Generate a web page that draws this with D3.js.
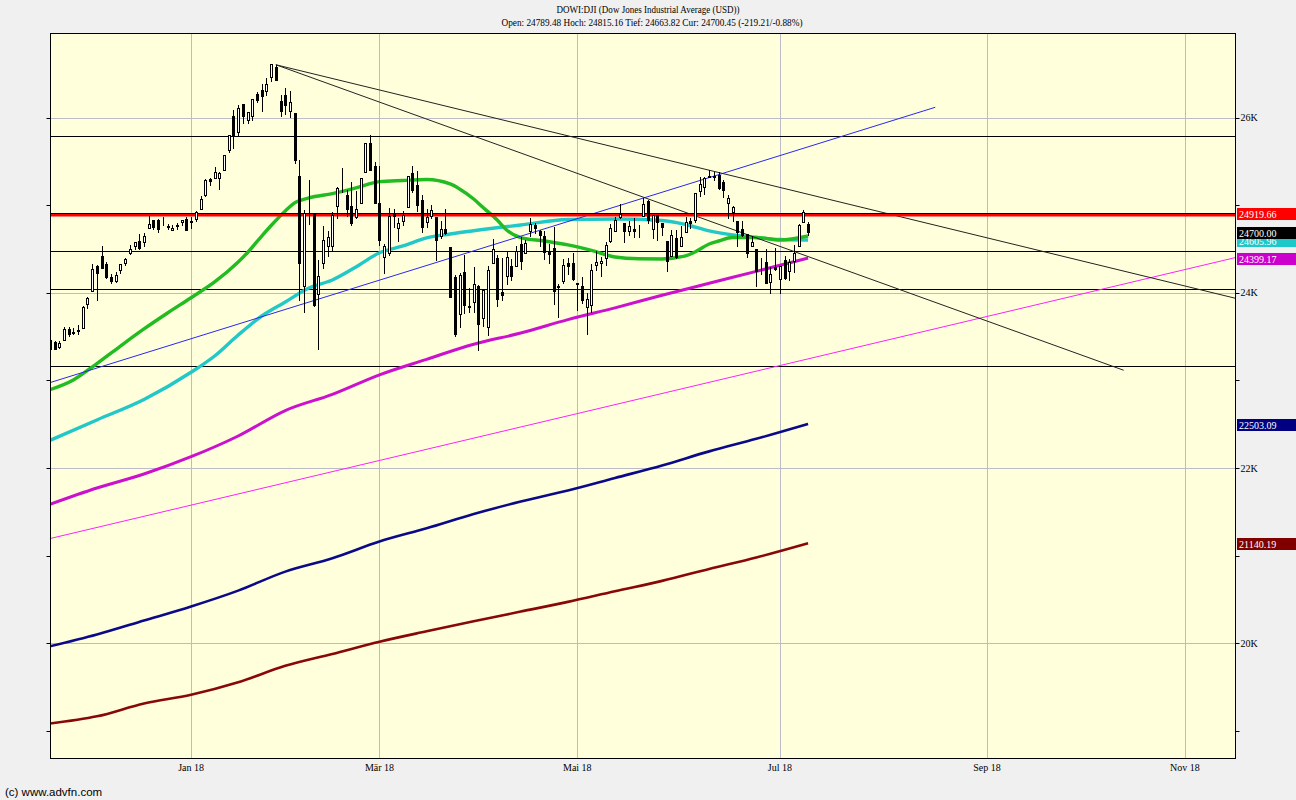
<!DOCTYPE html>
<html><head><meta charset="utf-8">
<script src="https://cdn.jsdelivr.net/npm/d3@7"></script>
<style>
body{margin:0;background:#f0f0f0;}
svg{display:block;}
text{font-family:"Liberation Serif","Times New Roman",serif;}
</style></head><body>
<svg id="chart" width="1296" height="800"></svg>
<script>
// ---------------- DATA ----------------
const titleLine1 = "DOWI:DJI (Dow Jones Industrial Average (USD))";
const titleLine2 = "Open: 24789.48 Hoch: 24815.16 Tief: 24663.82 Cur: 24700.45 (-219.21/-0.88%)";
const copyright = "(c) www.advfn.com";

// trading calendar (first candle = calendarStart)
const calendarStart = "2017-11-16";
const calendarEnd = "2018-11-30";
const holidays = ["2017-11-23","2017-12-25","2018-01-01","2018-01-15","2018-02-19","2018-03-30","2018-05-28","2018-07-04","2018-09-03","2018-11-22"];

// daily OHLC, consecutive trading days from 2017-11-16 to 2018-07-11
const open = [23358,23443,23379,23461,23592,23540,23563,23603,23874,24023,24305,24424,24335,24177,24133,24264,24348,24453,24535,24597,24586,24740,24838,24830,24781,24764,24715,24766,24808,24850,
24809,24850,24965,25115,25308,25312,25310,25410,25639,26018,25842,26154,25980,26026,26273,26317,26313,26467,26584,26198,26268,
26083,26062,25338,24085,24894,24902,23993,24338,24540,24535,24990,25228,25125,24991,24873,25034,25383,25710,25446,
25024,24410,24456,24919,24743,24828,24984,25373,25234,25067,24806,24877,24873,24653,24727,24524,24180,23757,24235,23842,23894,
24076,23719,23612,24337,24400,24006,24193,24313,24314,24560,24461,24707,24772,24706,24647,24471,24510,24070,24138,24348,24346,
24117,24081,23836,23865,24317,24341,24399,24591,24704,24863,24800,24713,24726,24716,24883,25047,24732,24887,24800,24597,24425,24629,
24542,24698,24821,24833,25170,25207,25337,25334,25348,25269,25030,24930,24817,24736,24678,24535,24503,24286,24357,24125,24301,
24161,24381,24250,24361,24532,24811,24789];
const high = [23476,23455,23447,23617,23606,23602,23638,23849,23954,24328,24322,24534,24349,24213,24240,24330,24399,24553,24580,24669,24691,24876,24838,24851,24872,24784,24778,24798,24839,24872,
24864,24942,25106,25300,25312,25440,25377,25575,25810,26086,26153,26154,26072,26215,26297,26393,26458,26617,26609,26257,26338,
26307,26062,25521,24946,25294,24904,24382,24760,24705,24926,25210,25432,25179,25268,25171,25317,25718,25800,25502,
25449,24565,24968,24958,24861,24941,25336,25449,25399,25115,24965,25000,24873,24819,24961,24524,24200,24226,24430,24061,24299,
24091,24033,24304,24622,24432,24400,24467,24386,24533,24643,24607,24858,24803,24718,24705,24558,24750,24097,24387,24403,24461,
24117,24185,23996,24333,24479,24412,24586,24789,24867,25012,24800,24819,24855,24772,25086,25064,24894,24887,24800,24597,24717,24719,
24763,24874,24854,25146,25326,25330,25402,25381,25382,25294,25123,24991,24817,24822,24678,24652,24503,24400,24508,24294,24509,
24313,24423,24384,24553,24789,24943,24815];
const low = [23358,23358,23371,23461,23503,23534,23535,23595,23830,24023,23922,24289,24167,24114,24127,24233,24323,24444,24508,24508,24533,24740,24728,24701,24776,24729,24715,24732,24773,24719,
24742,24826,24963,25112,25235,25312,25187,25403,25614,25657,25801,25943,25943,25975,26187,26075,26260,26425,26435,26028,26051,
26014,25491,23924,23779,24786,23849,23360,24290,24420,24490,24853,25149,24884,24780,24853,25034,25379,25401,25028,
24543,24230,24433,24751,24599,24778,24984,25149,24936,24694,24752,24852,24372,24634,24672,23955,23509,23609,23776,23780,23780,
23344,23618,23523,24337,23849,23924,24102,24143,24314,24269,24461,24651,24683,24537,24392,24345,23874,23723,24118,24217,24144,
23808,23886,23531,23779,24263,24198,24323,24578,24704,24856,24581,24667,24640,24637,24883,24796,24626,24601,24660,24247,24425,24399,
24542,24698,24745,24806,25108,25136,25322,25291,25190,25094,24854,24823,24539,24654,24414,24535,24084,24218,24111,23997,24262,
23997,24156,24152,24245,24532,24811,24664];
const close = [23458,23358,23430,23591,23526,23558,23581,23837,23941,24272,24232,24290,24181,24141,24211,24329,24386,24505,24585,24509,24652,24792,24755,24727,24782,24754,24746,24774,24838,24719,
24824,24923,25075,25296,25283,25386,25369,25575,25803,25793,26116,26018,26072,26215,26211,26252,26393,26617,26439,26077,26149,
26187,25521,24346,24913,24893,23860,24191,24601,24640,24893,25200,25219,24965,24798,24962,25310,25709,25410,25029,
24609,24538,24875,24884,24801,24895,25336,25179,25007,24758,24874,24947,24611,24727,24682,23958,23533,24203,23858,23848,24103,
23644,24033,24264,24505,23933,23979,24408,24189,24483,24360,24573,24787,24748,24665,24463,24449,24024,24084,24322,24311,24163,
24099,23925,23930,24263,24357,24360,24543,24740,24831,24899,24706,24769,24714,24715,25013,24834,24887,24812,24753,24361,24668,24416,
24635,24814,24800,25146,25241,25317,25322,25321,25201,25175,25090,24987,24700,24658,24462,24581,24253,24283,24118,24216,24271,
24307,24175,24357,24456,24777,24920,24700];

// moving averages: [date, value]
const ma50 = [["2017-11-16",22894],["2017-11-24",23006],["2017-12-01",23194],["2017-12-08",23394],["2017-12-15",23589],["2017-12-22",23771],
["2018-01-02",23946],["2018-01-09",24126],["2018-01-17",24354],["2018-01-19",24463],["2018-01-24",24651],["2018-01-26",24771],["2018-01-31",24937],
["2018-02-02",25029],["2018-02-07",25086],["2018-02-14",25135],["2018-02-22",25200],["2018-03-01",25272],["2018-03-08",25286],["2018-03-15",25297],
["2018-03-22",25246],["2018-03-26",25189],["2018-03-29",25074],["2018-04-03",24977],["2018-04-06",24834],["2018-04-10",24720],["2018-04-13",24634],
["2018-04-20",24594],["2018-04-27",24549],["2018-05-04",24486],["2018-05-11",24411],["2018-05-18",24391],["2018-05-25",24389],["2018-06-04",24423],
["2018-06-06",24469],["2018-06-11",24560],["2018-06-13",24594],["2018-06-18",24634],["2018-06-25",24634],["2018-07-02",24606],["2018-07-11",24651]];
const ma100 = [["2017-11-16",22314],["2017-12-01",22549],["2017-12-15",22783],["2018-01-02",23094],["2018-01-09",23280],["2018-01-17",23520],
["2018-01-24",23737],["2018-01-31",23897],["2018-02-07",24057],["2018-02-14",24149],["2018-02-22",24297],["2018-03-01",24459],["2018-03-08",24537],
["2018-03-15",24629],["2018-03-22",24674],["2018-03-29",24711],["2018-04-13",24777],["2018-04-27",24840],["2018-05-11",24846],["2018-05-25",24829],
["2018-06-04",24783],["2018-06-11",24709],["2018-06-18",24663],["2018-06-25",24634],["2018-07-02",24611],["2018-07-11",24606]];
const ma200 = [["2017-11-16",21584],["2017-12-01",21771],["2017-12-15",21931],["2018-01-02",22129],["2018-01-17",22366],["2018-01-31",22657],
["2018-02-14",22842],["2018-03-01",23065],["2018-03-15",23242],["2018-03-29",23414],["2018-04-13",23542],["2018-04-27",23695],["2018-05-11",23830],
["2018-05-25",23974],["2018-06-11",24111],["2018-06-25",24247],["2018-07-11",24399]];
const maNavy = [["2017-11-16",19962],["2017-12-01",20097],["2017-12-15",20257],["2018-01-02",20418],["2018-01-17",20599],["2018-01-31",20816],
["2018-02-14",20969],["2018-03-01",21160],["2018-03-15",21311],["2018-03-29",21474],["2018-04-13",21617],["2018-04-27",21743],["2018-05-11",21886],
["2018-05-25",22029],["2018-06-11",22190],["2018-06-25",22333],["2018-07-11",22503]];
const maMaroon = [["2017-11-16",19080],["2017-12-01",19162],["2017-12-15",19309],["2018-01-02",19409],["2018-01-17",19551],["2018-01-31",19739],
["2018-02-14",19875],["2018-03-01",20015],["2018-03-15",20134],["2018-03-29",20248],["2018-04-13",20359],["2018-04-27",20470],["2018-05-11",20592],
["2018-05-25",20710],["2018-06-11",20846],["2018-06-25",20977],["2018-07-11",21140]];

// drawn studies
const levelLines = [25794, 24480, 24046, 23166];
const prevClose = 24919.66;
const trendBlack = [[["2018-01-29",26608],["2018-10-15",23117]], [["2018-01-29",26608],["2018-11-16",23936]]];
const trendBlue = [["2017-11-16",22975],["2018-08-17",26122]];
const trendMagenta = [["2017-11-16",21193],["2018-11-16",24408]];

// right-hand value boxes
const boxValues = [24605.96, 24919.66, 24700.00, 24399.17, 22503.09, 21140.19];
const boxLabels = ["24605.96","24919.66","24700.00","24399.17","22503.09","21140.19"];
const boxColors = ["#1ec8c8","#ff0000","#000000","#cc00cc","#000080","#800000"];

// axes
const monthTicks = ["2018-01","2018-03","2018-05","2018-07","2018-09","2018-11"];
const monthLabels = ["Jan 18","Mär 18","Mai 18","Jul 18","Sep 18","Nov 18"];
const yMinor = [19000,20000,21000,22000,23000,24000,25000,26000];
const yLabelValues = [20000,22000,24000,26000];
const yLabels = ["20K","22K","24K","26K"];

// ---------------- LAYOUT ----------------
const P = {left:50.5, right:1235.5, top:33.5, bottom:758.5};
const svg = d3.select("#chart");

const parse = d3.utcParse("%Y-%m-%d");
const fmt = d3.utcFormat("%Y-%m-%d");
const days = [];
for (let d = parse(calendarStart); d <= parse(calendarEnd); d = d3.utcDay.offset(d, 1)) {
  const wd = d.getUTCDay();
  if (wd === 0 || wd === 6) continue;
  const s = fmt(d);
  if (holidays.includes(s)) continue;
  days.push(s);
}
const dayIndex = new Map(days.map((d, i) => [d, i]));

const x = d3.scaleLinear().domain([0.15, 251.75]).range([P.left, P.right]);
const y = d3.scaleLinear().domain([18686, 26971]).range([758, 33]);

const candles = open.map((o, i) => ({i, o, h: high[i], l: low[i], c: close[i]}));

// background
svg.append("rect").attr("x",0).attr("y",0).attr("width",1296).attr("height",800).attr("fill","#f0f0f0");
svg.append("rect").attr("x",P.left).attr("y",P.top).attr("width",P.right-P.left).attr("height",P.bottom-P.top).attr("fill","#ffffdc");

svg.append("clipPath").attr("id","plotClip").append("rect")
  .attr("x",P.left).attr("y",P.top).attr("width",P.right-P.left).attr("height",P.bottom-P.top);
const g = svg.append("g").attr("clip-path","url(#plotClip)");

// grid
const monthIdx = monthTicks.map(m => days.findIndex(d => d.startsWith(m)));
g.selectAll(".vgrid").data(monthIdx).join("line")
  .attr("x1", d => Math.round(x(d))+0.5).attr("x2", d => Math.round(x(d))+0.5)
  .attr("y1", P.top).attr("y2", P.bottom).attr("stroke","#bcbcc8").attr("stroke-width",1);
g.selectAll(".hgrid").data(yLabelValues).join("line")
  .attr("x1", P.left).attr("x2", P.right)
  .attr("y1", d => Math.round(y(d))+0.5).attr("y2", d => Math.round(y(d))+0.5)
  .attr("stroke","#bcbcc8").attr("stroke-width",1);

// moving averages
const maLine = d3.line().x(d => x(dayIndex.get(d[0]))).y(d => y(d[1])).curve(d3.curveMonotoneX);
const maDefs = [
  {data: maMaroon, color:"#880808", w:2.6},
  {data: maNavy, color:"#0a0a88", w:2.6},
  {data: ma200, color:"#cc11cc", w:3},
  {data: ma100, color:"#22c8c8", w:3.4},
  {data: ma50, color:"#22bb22", w:3.4}
];

// level lines
g.selectAll(".level").data(levelLines).join("line")
  .attr("x1", P.left).attr("x2", P.right)
  .attr("y1", d => Math.round(y(d))+0.5).attr("y2", d => Math.round(y(d))+0.5)
  .attr("stroke","#000").attr("stroke-width",1);

// trend lines
const seg = (pts, color) => g.append("line")
  .attr("x1", x(dayIndex.get(pts[0][0]))).attr("y1", y(pts[0][1]))
  .attr("x2", x(dayIndex.get(pts[1][0]))).attr("y2", y(pts[1][1]))
  .attr("stroke", color).attr("stroke-width", 1);
seg(trendMagenta, "#ff22ff");

g.selectAll(".ma").data(maDefs).join("path")
  .attr("d", d => maLine(d.data)).attr("fill","none")
  .attr("stroke", d => d.color).attr("stroke-width", d => d.w).attr("stroke-linejoin","round");

seg(trendBlue, "#2828ee");
trendBlack.forEach(t => seg(t, "#222"));

// previous close line
const pcY = Math.round(y(prevClose));
g.append("line").attr("x1",P.left).attr("x2",P.right).attr("y1",pcY+2).attr("y2",pcY+2)
  .attr("stroke","#ff0000").attr("stroke-width",3);
g.append("line").attr("x1",P.left).attr("x2",P.right).attr("y1",pcY+0.5).attr("y2",pcY+0.5)
  .attr("stroke","#000").attr("stroke-width",1);

// candles
const cg = g.append("g");
cg.selectAll(".wick").data(candles).join("line")
  .attr("x1", d => Math.round(x(d.i))+0.5).attr("x2", d => Math.round(x(d.i))+0.5)
  .attr("y1", d => Math.round(y(d.h))).attr("y2", d => Math.round(y(d.l))+1)
  .attr("stroke","#000").attr("stroke-width",1);
cg.selectAll(".body").data(candles).join("rect")
  .attr("x", d => Math.round(x(d.i))-0.5)
  .attr("width", 2)
  .attr("y", d => Math.round(y(Math.max(d.o,d.c)))+0.5)
  .attr("height", d => Math.max(0, Math.round(y(Math.min(d.o,d.c))) - Math.round(y(Math.max(d.o,d.c)))))
  .attr("fill", d => d.c >= d.o ? "#fff" : "#000")
  .attr("stroke","#000").attr("stroke-width",1);

// frame
svg.append("rect").attr("x",P.left).attr("y",P.top).attr("width",P.right-P.left).attr("height",P.bottom-P.top)
  .attr("fill","none").attr("stroke","#000").attr("stroke-width",1);

// y ticks both sides
yMinor.forEach(v => {
  const yy = Math.round(y(v))+0.5;
  svg.append("line").attr("x1",P.left-4).attr("x2",P.left).attr("y1",yy).attr("y2",yy).attr("stroke","#000");
  svg.append("line").attr("x1",P.right).attr("x2",P.right+4).attr("y1",yy).attr("y2",yy).attr("stroke","#000");
});
svg.selectAll(".ylab").data(yLabelValues).join("text")
  .attr("x", P.right+5).attr("y", d => y(d)+3.5)
  .attr("font-size","10px").attr("fill","#000").text((d,i) => yLabels[i]);

// x labels
svg.selectAll(".xlab").data(monthIdx).join("text")
  .attr("x", d => x(d)).attr("y", 771).attr("text-anchor","middle")
  .attr("font-size","10px").attr("fill","#000").text((d,i) => monthLabels[i]);

// value boxes
boxValues.forEach((v, i) => {
  const yy = y(v);
  svg.append("rect").attr("x", 1237).attr("y", Math.round(yy)-5).attr("width", 59).attr("height", 12)
    .attr("fill", boxColors[i]);
  svg.append("text").attr("x", 1239).attr("y", Math.round(yy)+5)
    .attr("font-size","10px").attr("fill","#fff").text(boxLabels[i]);
});

// titles
svg.append("text").attr("x",648).attr("y",13).attr("text-anchor","middle").attr("font-size","10px")
  .attr("textLength",183).attr("lengthAdjust","spacingAndGlyphs").text(titleLine1);
svg.append("text").attr("x",652).attr("y",26).attr("text-anchor","middle").attr("font-size","10px")
  .attr("textLength",301).attr("lengthAdjust","spacingAndGlyphs").text(titleLine2);
svg.append("text").attr("x",5).attr("y",796).attr("font-size","11.5px")
  .style("font-family","'Liberation Sans',Arial,sans-serif").attr("fill","#000").text(copyright);
</script>
</body></html>
